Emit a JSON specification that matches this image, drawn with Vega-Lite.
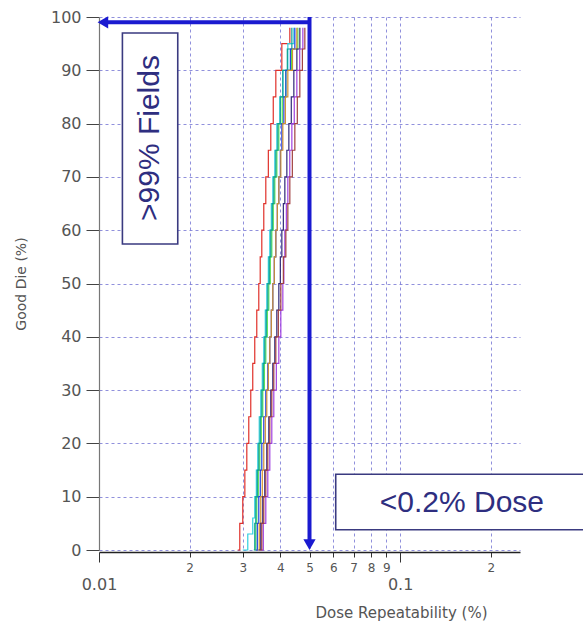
{
  "$schema": "https://vega.github.io/schema/vega-lite/v6.json",
  "width": 421,
  "height": 533,
  "autosize": {"type": "none"},
  "padding": {"left": 99, "top": 17, "right": 63, "bottom": 71},
  "background": "white",
  "config": {"view": {"stroke": null}, "font": "DejaVu Sans"},
  "datasets": {
    "curves": [
      {"run": "A", "dose": 0.02889, "good": 0}, {"run": "A", "dose": 0.02934, "good": 5}, {"run": "A", "dose": 0.03002, "good": 10}, {"run": "A", "dose": 0.03050, "good": 15}, {"run": "A", "dose": 0.03096, "good": 20}, {"run": "A", "dose": 0.03143, "good": 25}, {"run": "A", "dose": 0.03191, "good": 30}, {"run": "A", "dose": 0.03240, "good": 35}, {"run": "A", "dose": 0.03290, "good": 40}, {"run": "A", "dose": 0.03341, "good": 45}, {"run": "A", "dose": 0.03393, "good": 50}, {"run": "A", "dose": 0.03430, "good": 55}, {"run": "A", "dose": 0.03472, "good": 60}, {"run": "A", "dose": 0.03525, "good": 65}, {"run": "A", "dose": 0.03580, "good": 70}, {"run": "A", "dose": 0.03650, "good": 75}, {"run": "A", "dose": 0.03719, "good": 80}, {"run": "A", "dose": 0.03790, "good": 85}, {"run": "A", "dose": 0.03865, "good": 90}, {"run": "A", "dose": 0.04047, "good": 95}, {"run": "A", "dose": 0.04302, "good": 98},
      {"run": "B", "dose": 0.03002, "good": 0}, {"run": "B", "dose": 0.03119, "good": 3}, {"run": "B", "dose": 0.03240, "good": 6}, {"run": "B", "dose": 0.03290, "good": 10}, {"run": "B", "dose": 0.03330, "good": 15}, {"run": "B", "dose": 0.03367, "good": 20}, {"run": "B", "dose": 0.03405, "good": 25}, {"run": "B", "dose": 0.03445, "good": 30}, {"run": "B", "dose": 0.03485, "good": 35}, {"run": "B", "dose": 0.03525, "good": 40}, {"run": "B", "dose": 0.03566, "good": 45}, {"run": "B", "dose": 0.03607, "good": 50}, {"run": "B", "dose": 0.03650, "good": 55}, {"run": "B", "dose": 0.03691, "good": 60}, {"run": "B", "dose": 0.03734, "good": 65}, {"run": "B", "dose": 0.03777, "good": 70}, {"run": "B", "dose": 0.03835, "good": 75}, {"run": "B", "dose": 0.03895, "good": 80}, {"run": "B", "dose": 0.03985, "good": 85}, {"run": "B", "dose": 0.04078, "good": 90}, {"run": "B", "dose": 0.04237, "good": 95}, {"run": "B", "dose": 0.04436, "good": 98},
      {"run": "C", "dose": 0.03290, "good": 0}, {"run": "C", "dose": 0.03316, "good": 5}, {"run": "C", "dose": 0.03341, "good": 10}, {"run": "C", "dose": 0.03380, "good": 15}, {"run": "C", "dose": 0.03419, "good": 20}, {"run": "C", "dose": 0.03458, "good": 25}, {"run": "C", "dose": 0.03498, "good": 30}, {"run": "C", "dose": 0.03540, "good": 35}, {"run": "C", "dose": 0.03580, "good": 40}, {"run": "C", "dose": 0.03621, "good": 45}, {"run": "C", "dose": 0.03663, "good": 50}, {"run": "C", "dose": 0.03705, "good": 55}, {"run": "C", "dose": 0.03748, "good": 60}, {"run": "C", "dose": 0.03790, "good": 65}, {"run": "C", "dose": 0.03835, "good": 70}, {"run": "C", "dose": 0.03895, "good": 75}, {"run": "C", "dose": 0.03955, "good": 80}, {"run": "C", "dose": 0.04060, "good": 85}, {"run": "C", "dose": 0.04173, "good": 90}, {"run": "C", "dose": 0.04360, "good": 94}, {"run": "C", "dose": 0.04574, "good": 98},
      {"run": "D", "dose": 0.03265, "good": 0}, {"run": "D", "dose": 0.03290, "good": 5}, {"run": "D", "dose": 0.03316, "good": 10}, {"run": "D", "dose": 0.03355, "good": 15}, {"run": "D", "dose": 0.03393, "good": 20}, {"run": "D", "dose": 0.03432, "good": 25}, {"run": "D", "dose": 0.03472, "good": 30}, {"run": "D", "dose": 0.03512, "good": 35}, {"run": "D", "dose": 0.03552, "good": 40}, {"run": "D", "dose": 0.03593, "good": 45}, {"run": "D", "dose": 0.03635, "good": 50}, {"run": "D", "dose": 0.03677, "good": 55}, {"run": "D", "dose": 0.03719, "good": 60}, {"run": "D", "dose": 0.03762, "good": 65}, {"run": "D", "dose": 0.03806, "good": 70}, {"run": "D", "dose": 0.03865, "good": 75}, {"run": "D", "dose": 0.03925, "good": 80}, {"run": "D", "dose": 0.04000, "good": 85}, {"run": "D", "dose": 0.04078, "good": 90}, {"run": "D", "dose": 0.04220, "good": 94}, {"run": "D", "dose": 0.04369, "good": 98},
      {"run": "E", "dose": 0.03316, "good": 0}, {"run": "E", "dose": 0.03355, "good": 5}, {"run": "E", "dose": 0.03393, "good": 10}, {"run": "E", "dose": 0.03432, "good": 15}, {"run": "E", "dose": 0.03472, "good": 20}, {"run": "E", "dose": 0.03525, "good": 25}, {"run": "E", "dose": 0.03580, "good": 30}, {"run": "E", "dose": 0.03635, "good": 35}, {"run": "E", "dose": 0.03691, "good": 40}, {"run": "E", "dose": 0.03734, "good": 45}, {"run": "E", "dose": 0.03777, "good": 50}, {"run": "E", "dose": 0.03820, "good": 55}, {"run": "E", "dose": 0.03865, "good": 60}, {"run": "E", "dose": 0.03910, "good": 65}, {"run": "E", "dose": 0.03955, "good": 70}, {"run": "E", "dose": 0.04000, "good": 75}, {"run": "E", "dose": 0.04047, "good": 80}, {"run": "E", "dose": 0.04110, "good": 85}, {"run": "E", "dose": 0.04173, "good": 90}, {"run": "E", "dose": 0.04320, "good": 94}, {"run": "E", "dose": 0.04470, "good": 98},
      {"run": "F", "dose": 0.03367, "good": 0}, {"run": "F", "dose": 0.03405, "good": 5}, {"run": "F", "dose": 0.03445, "good": 10}, {"run": "F", "dose": 0.03485, "good": 15}, {"run": "F", "dose": 0.03525, "good": 20}, {"run": "F", "dose": 0.03566, "good": 25}, {"run": "F", "dose": 0.03607, "good": 30}, {"run": "F", "dose": 0.03650, "good": 35}, {"run": "F", "dose": 0.03691, "good": 40}, {"run": "F", "dose": 0.03734, "good": 45}, {"run": "F", "dose": 0.03777, "good": 50}, {"run": "F", "dose": 0.03820, "good": 55}, {"run": "F", "dose": 0.03865, "good": 60}, {"run": "F", "dose": 0.03910, "good": 65}, {"run": "F", "dose": 0.03955, "good": 70}, {"run": "F", "dose": 0.04016, "good": 75}, {"run": "F", "dose": 0.04078, "good": 80}, {"run": "F", "dose": 0.04157, "good": 85}, {"run": "F", "dose": 0.04237, "good": 90}, {"run": "F", "dose": 0.04390, "good": 94}, {"run": "F", "dose": 0.04539, "good": 98},
      {"run": "G", "dose": 0.03393, "good": 0}, {"run": "G", "dose": 0.03445, "good": 5}, {"run": "G", "dose": 0.03498, "good": 10}, {"run": "G", "dose": 0.03552, "good": 15}, {"run": "G", "dose": 0.03607, "good": 20}, {"run": "G", "dose": 0.03663, "good": 25}, {"run": "G", "dose": 0.03719, "good": 30}, {"run": "G", "dose": 0.03777, "good": 35}, {"run": "G", "dose": 0.03835, "good": 40}, {"run": "G", "dose": 0.03895, "good": 45}, {"run": "G", "dose": 0.03955, "good": 50}, {"run": "G", "dose": 0.04000, "good": 55}, {"run": "G", "dose": 0.04047, "good": 60}, {"run": "G", "dose": 0.04094, "good": 65}, {"run": "G", "dose": 0.04141, "good": 70}, {"run": "G", "dose": 0.04205, "good": 75}, {"run": "G", "dose": 0.04270, "good": 80}, {"run": "G", "dose": 0.04350, "good": 85}, {"run": "G", "dose": 0.04436, "good": 90}, {"run": "G", "dose": 0.04540, "good": 94}, {"run": "G", "dose": 0.04644, "good": 98},
      {"run": "H", "dose": 0.03445, "good": 0}, {"run": "H", "dose": 0.03512, "good": 5}, {"run": "H", "dose": 0.03580, "good": 10}, {"run": "H", "dose": 0.03635, "good": 15}, {"run": "H", "dose": 0.03691, "good": 20}, {"run": "H", "dose": 0.03748, "good": 25}, {"run": "H", "dose": 0.03806, "good": 30}, {"run": "H", "dose": 0.03880, "good": 35}, {"run": "H", "dose": 0.03955, "good": 40}, {"run": "H", "dose": 0.04016, "good": 45}, {"run": "H", "dose": 0.04078, "good": 50}, {"run": "H", "dose": 0.04110, "good": 55}, {"run": "H", "dose": 0.04141, "good": 60}, {"run": "H", "dose": 0.04189, "good": 65}, {"run": "H", "dose": 0.04237, "good": 70}, {"run": "H", "dose": 0.04300, "good": 75}, {"run": "H", "dose": 0.04369, "good": 80}, {"run": "H", "dose": 0.04450, "good": 85}, {"run": "H", "dose": 0.04539, "good": 90}, {"run": "H", "dose": 0.04640, "good": 94}, {"run": "H", "dose": 0.04752, "good": 98},
      {"run": "I", "dose": 0.03419, "good": 0}, {"run": "I", "dose": 0.03472, "good": 5}, {"run": "I", "dose": 0.03525, "good": 10}, {"run": "I", "dose": 0.03580, "good": 15}, {"run": "I", "dose": 0.03635, "good": 20}, {"run": "I", "dose": 0.03691, "good": 25}, {"run": "I", "dose": 0.03748, "good": 30}, {"run": "I", "dose": 0.03806, "good": 35}, {"run": "I", "dose": 0.03865, "good": 40}, {"run": "I", "dose": 0.03940, "good": 45}, {"run": "I", "dose": 0.04016, "good": 50}, {"run": "I", "dose": 0.04094, "good": 55}, {"run": "I", "dose": 0.04173, "good": 60}, {"run": "I", "dose": 0.04237, "good": 65}, {"run": "I", "dose": 0.04302, "good": 70}, {"run": "I", "dose": 0.04385, "good": 75}, {"run": "I", "dose": 0.04470, "good": 80}, {"run": "I", "dose": 0.04555, "good": 85}, {"run": "I", "dose": 0.04644, "good": 90}, {"run": "I", "dose": 0.04735, "good": 94}, {"run": "I", "dose": 0.04825, "good": 98}
    ],
    "arrows": [
      {"x": 0.05, "y": 100, "x2": 0.05, "y2": 1.5},
      {"x": 0.05, "y": 99, "x2": 0.0106, "y2": 99}
    ],
    "heads": [
      {"x": 0.05, "y": 1.0, "dir": "down"},
      {"x": 0.0103, "y": 99, "dir": "left"}
    ],
    "boxes": [
      {"label": ">99% Fields", "x": 0.01196, "x2": 0.01826, "y": 97.0, "y2": 57.4, "tx": 0.01474, "ty": 77.3, "angle": 270},
      {"label": "<0.2% Dose", "x": 0.0611, "x2": 0.5, "y": 14.2, "y2": 3.8, "tx": 0.1603, "ty": 8.8, "angle": 0}
    ]
  },
  "layer": [
    {
      "data": {"name": "curves"},
      "mark": {"type": "line", "interpolate": "step-after", "strokeWidth": 1.2},
      "encoding": {
        "x": {
          "field": "dose", "type": "quantitative",
          "scale": {"type": "log", "domain": [0.01, 0.25], "nice": false},
          "axis": {
            "orient": "bottom",
            "values": [0.02, 0.03, 0.04, 0.05, 0.06, 0.07, 0.08, 0.09, 0.1, 0.2],
            "labelExpr": "datum.value > 0.095 && datum.value < 0.105 ? '' : (datum.value < 0.1 ? format(datum.value * 100, '.0f') : format(datum.value * 10, '.0f'))",
            "labelFontSize": 12, "labelColor": "#555", "labelPadding": 5, "labelFlush": false,
            "tickSize": 5, "tickColor": "#333",
            "domainColor": "#222", "domainWidth": 1.5, "offset": 2,
            "grid": true, "gridColor": "#6b6bd0", "gridDash": [3, 3], "gridOpacity": 0.75,
            "title": "Dose Repeatability (%)", "titleFontSize": 15, "titleFontWeight": "normal", "titleColor": "#555",
            "titleX": 302, "titleY": 60, "titleBaseline": "middle", "titleAnchor": "middle", "titleAlign": "center"
          }
        },
        "y": {
          "field": "good", "type": "quantitative",
          "scale": {"domain": [0, 100], "nice": false},
          "axis": {
            "orient": "left",
            "values": [0, 10, 20, 30, 40, 50, 60, 70, 80, 90, 100],
            "labelFontSize": 16, "labelColor": "#555", "labelPadding": 5,
            "tickSize": 13, "tickColor": "#444",
            "domainColor": "#777", "domainWidth": 1.2,
            "grid": true, "gridColor": "#6b6bd0", "gridDash": [3, 3], "gridOpacity": 0.75,
            "title": "Good Die (%)", "titleFontSize": 14, "titleFontWeight": "normal", "titleColor": "#555", "titlePadding": 22
          }
        },
        "color": {
          "field": "run", "type": "nominal", "legend": null,
          "scale": {"domain": ["A", "B", "C", "D", "E", "F", "G", "H", "I"],
                    "range": ["#e0302a", "#30d0e0", "#50e050", "#10a090", "#2040e0", "#d09030", "#302878", "#a040e0", "#a04040"]}
        }
      }
    },
    {
      "data": {"name": "arrows"},
      "mark": {"type": "rule", "color": "#1a1ad0", "strokeWidth": 4},
      "encoding": {
        "x": {
          "field": "x", "type": "quantitative",
          "scale": {"type": "log", "domain": [0.01, 0.25], "nice": false},
          "axis": {
            "orient": "bottom",
            "values": [0.01, 0.1],
            "labelExpr": "datum.value < 0.05 ? '0.01' : '0.1'",
            "labelFontSize": 16, "labelColor": "#555", "labelPadding": 14, "labelFlush": false,
            "tickSize": 10, "tickColor": "#333", "offset": 2,
            "domain": false, "grid": false, "title": null
          }
        },
        "x2": {"field": "x2"},
        "y": {"field": "y", "type": "quantitative", "scale": {"domain": [0, 100], "nice": false}, "axis": null},
        "y2": {"field": "y2"}
      }
    },
    {
      "data": {"name": "heads"},
      "mark": {"type": "point", "filled": true, "color": "#1a1ad0", "opacity": 1, "size": 150},
      "encoding": {
        "x": {"field": "x", "type": "quantitative", "scale": {"type": "log", "domain": [0.01, 0.25], "nice": false}, "axis": null},
        "y": {"field": "y", "type": "quantitative", "scale": {"domain": [0, 100], "nice": false}, "axis": null},
        "shape": {"field": "dir", "type": "nominal", "legend": null,
                  "scale": {"domain": ["down", "left"], "range": ["triangle-down", "triangle-left"]}}
      }
    },
    {
      "data": {"name": "boxes"},
      "mark": {"type": "rect", "fill": "white", "stroke": "#3a3a80", "strokeWidth": 1.6},
      "encoding": {
        "x": {"field": "x", "type": "quantitative", "scale": {"type": "log", "domain": [0.01, 0.25], "nice": false}, "axis": null},
        "x2": {"field": "x2"},
        "y": {"field": "y", "type": "quantitative", "scale": {"domain": [0, 100], "nice": false}, "axis": null},
        "y2": {"field": "y2"}
      }
    },
    {
      "data": {"name": "boxes"},
      "mark": {"type": "text", "font": "Liberation Sans", "fontSize": 30, "color": "#2e2e80", "align": "center", "baseline": "middle"},
      "encoding": {
        "x": {"field": "tx", "type": "quantitative", "scale": {"type": "log", "domain": [0.01, 0.25], "nice": false}, "axis": null},
        "y": {"field": "ty", "type": "quantitative", "scale": {"domain": [0, 100], "nice": false}, "axis": null},
        "text": {"field": "label"},
        "angle": {"field": "angle", "type": "quantitative", "scale": null}
      }
    }
  ],
  "resolve": {"axis": {"x": "independent", "y": "independent"}}
}
